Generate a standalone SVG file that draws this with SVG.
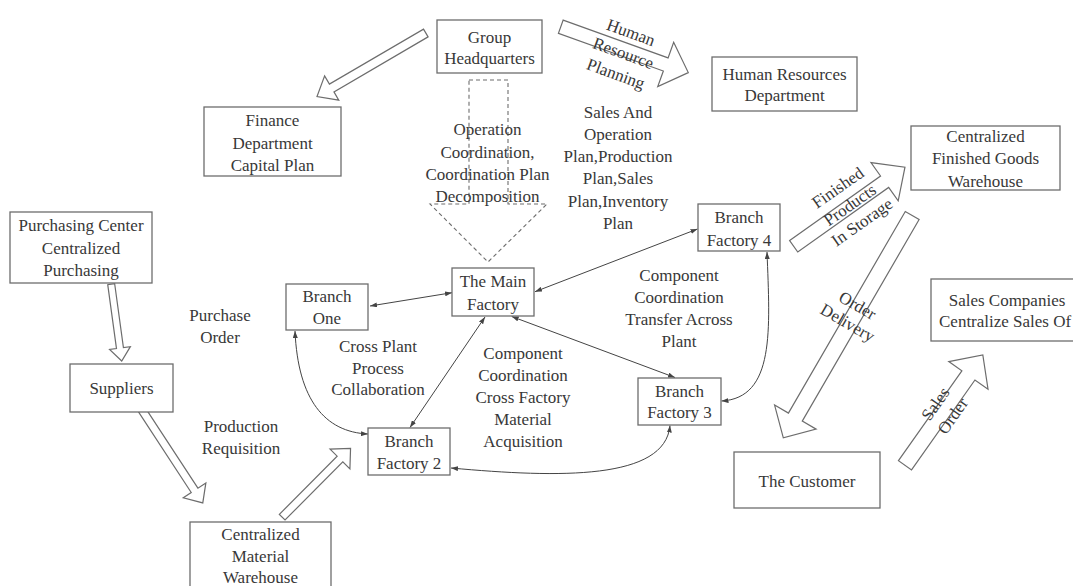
<svg xmlns="http://www.w3.org/2000/svg" width="1073" height="586" viewBox="0 0 1073 586">
<defs>
<marker id="ah" viewBox="0 0 7 5" markerWidth="7" markerHeight="5" refX="7" refY="2.5" orient="auto-start-reverse" markerUnits="userSpaceOnUse">
<path d="M0,0 L7,2.5 L0,5 z" fill="#444"/>
</marker>
</defs>
<style>
text{font-family:"Liberation Serif","Times New Roman",serif;font-size:17px;fill:#383838;text-anchor:middle}
.box{fill:#fff;stroke:#6d6d6d;stroke-width:1.3}
.blk{fill:#fff;stroke:#6d6d6d;stroke-width:1.2;stroke-linejoin:miter}
.dash{fill:none;stroke:#6d6d6d;stroke-width:1.1;stroke-dasharray:4 3}
.ln{fill:none;stroke:#444;stroke-width:1;marker-start:url(#ah);marker-end:url(#ah)}
</style>
<rect width="1073" height="586" fill="#fff"/>
<g id="connectors">
<polygon class="dash" points="469,80 508,80 508,204 547,204 488,262 430,204 469,204"/>
<polygon class="blk" transform="translate(425.8,33) rotate(149.7)" points="0,-4.5 109,-4.5 109,-14 126,0 109,14 109,4.5 0,4.5"/>
<polygon class="blk" transform="translate(560.8,26.7) rotate(19.8)" points="0,-7 111.5,-7 111.5,-23.5 135.5,0 111.5,23.5 111.5,7 0,7"/>
<polygon class="blk" transform="translate(793.7,246.3) rotate(-35.4)" points="0,-7 111.5,-7 111.5,-23.5 136.5,0 111.5,23.5 111.5,7 0,7"/>
<polygon class="blk" transform="translate(912.2,215.5) rotate(120.1)" points="0,-8 233,-8 233,-24 257,0 233,24 233,8 0,8"/>
<polygon class="blk" transform="translate(905,465.3) rotate(-54.8)" points="0,-8 110,-8 110,-24 135,0 110,24 110,8 0,8"/>
<polygon class="blk" transform="translate(111.2,284.2) rotate(82.2)" points="0,-3.5 64.5,-3.5 64.5,-10.5 77.5,0 64.5,10.5 64.5,3.5 0,3.5"/>
<polygon class="blk" transform="translate(142,410) rotate(56.8)" points="0,-4 96,-4 96,-13.5 111,0 96,13.5 96,4 0,4"/>
<polygon class="blk" transform="translate(282.2,517.2) rotate(-45.2)" points="0,-4 82,-4 82,-14 97,0 82,14 82,4 0,4"/>
<line class="ln" x1="370" y1="306" x2="452" y2="292.7"/>
<line class="ln" x1="535" y1="291.7" x2="697.5" y2="229"/>
<line class="ln" x1="511.7" y1="316.5" x2="675" y2="377.5"/>
<line class="ln" x1="485" y1="317" x2="410" y2="427.5"/>
<path class="ln" d="M295,331 C298,400 325,432 368,434"/>
<path class="ln" d="M451,468 C560,478 665,480 670,425.5"/>
<path class="ln" d="M767,252 C770,330 775,398 721.5,401"/>
</g>
<g id="labels">
<text><tspan x="487.5" y="135">Operation</tspan><tspan x="487.5" y="157.5">Coordination,</tspan><tspan x="487.5" y="180">Coordination Plan</tspan><tspan x="487.5" y="201.5">Decomposition</tspan></text>
<text><tspan x="618" y="117.5">Sales And</tspan><tspan x="618" y="140">Operation</tspan><tspan x="618" y="162">Plan,Production</tspan><tspan x="618" y="184">Plan,Sales</tspan><tspan x="618" y="206.5">Plan,Inventory</tspan><tspan x="618" y="228.5">Plan</tspan></text>
<text><tspan x="220" y="321">Purchase</tspan><tspan x="220" y="342.5">Order</tspan></text>
<text><tspan x="378" y="352">Cross Plant</tspan><tspan x="378" y="373.5">Process</tspan><tspan x="378" y="395">Collaboration</tspan></text>
<text><tspan x="679" y="281">Component</tspan><tspan x="679" y="303">Coordination</tspan><tspan x="679" y="325">Transfer Across</tspan><tspan x="679" y="347">Plant</tspan></text>
<text><tspan x="523" y="359">Component</tspan><tspan x="523" y="381">Coordination</tspan><tspan x="523" y="403">Cross Factory</tspan><tspan x="523" y="425">Material</tspan><tspan x="523" y="447">Acquisition</tspan></text>
<text><tspan x="241" y="431.5">Production</tspan><tspan x="241" y="453.5">Requisition</tspan></text>
<text transform="translate(623.3,53.3) rotate(20)"><tspan x="0" y="-16.5">Human</tspan><tspan x="0" y="5.5">Resource</tspan><tspan x="0" y="27.5">Planning</tspan></text>
<text transform="translate(850,205) rotate(-35)"><tspan x="0" y="-15.5">Finished</tspan><tspan x="0" y="5.5">Products</tspan><tspan x="0" y="26.5">In Storage</tspan></text>
<text transform="translate(852.5,314.2) rotate(30)"><tspan x="0" y="-4.5">Order</tspan><tspan x="0" y="15.5">Delivery</tspan></text>
<text transform="translate(944.2,410) rotate(-55)"><tspan x="0" y="-5">Sales</tspan><tspan x="0" y="16">Order</tspan></text>
</g>
<g id="hq"><rect class="box" x="437" y="20" width="105" height="53"/><text><tspan x="489.5" y="43">Group</tspan><tspan x="489.5" y="64">Headquarters</tspan></text></g>
<g id="finance"><rect class="box" x="204" y="107" width="137" height="69"/><text><tspan x="272.5" y="126">Finance</tspan><tspan x="272.5" y="149">Department</tspan><tspan x="272.5" y="171">Capital Plan</tspan></text></g>
<g id="hr"><rect class="box" x="712" y="57" width="145" height="54"/><text><tspan x="784.5" y="79.5">Human Resources</tspan><tspan x="784.5" y="101">Department</tspan></text></g>
<g id="fgw"><rect class="box" x="911" y="126" width="149" height="64"/><text><tspan x="985.5" y="142">Centralized</tspan><tspan x="985.5" y="164">Finished Goods</tspan><tspan x="985.5" y="187">Warehouse</tspan></text></g>
<g id="purchasing"><rect class="box" x="10" y="212" width="142" height="71"/><text><tspan x="81" y="231">Purchasing Center</tspan><tspan x="81" y="254">Centralized</tspan><tspan x="81" y="276">Purchasing</tspan></text></g>
<g id="suppliers"><rect class="box" x="70" y="364" width="103" height="48"/><text x="121.5" y="394">Suppliers</text></g>
<g id="branch1"><rect class="box" x="286" y="284" width="82" height="46"/><text><tspan x="327" y="302">Branch</tspan><tspan x="327" y="324">One</tspan></text></g>
<g id="main"><rect class="box" x="452" y="268" width="82" height="48"/><text><tspan x="493" y="286.5">The Main</tspan><tspan x="493" y="310">Factory</tspan></text></g>
<g id="bf2"><rect class="box" x="368" y="428" width="82" height="47"/><text><tspan x="409" y="447">Branch</tspan><tspan x="409" y="469">Factory 2</tspan></text></g>
<g id="bf3"><rect class="box" x="638" y="378" width="83" height="47"/><text><tspan x="679.5" y="396.5">Branch</tspan><tspan x="679.5" y="418">Factory 3</tspan></text></g>
<g id="bf4"><rect class="box" x="698" y="204" width="82" height="47"/><text><tspan x="739" y="222.5">Branch</tspan><tspan x="739" y="246">Factory 4</tspan></text></g>
<g id="customer"><rect class="box" x="734" y="452" width="146" height="56"/><text x="807" y="486.5">The Customer</text></g>
<g id="sales"><rect class="box" x="931" y="279" width="150" height="62"/><text><tspan x="1007" y="306">Sales Companies</tspan><tspan x="939" y="326.5" style="text-anchor:start">Centralize Sales Of</tspan></text></g>
<g id="cmw"><rect class="box" x="190" y="522" width="141" height="80"/><text><tspan x="260.5" y="540">Centralized</tspan><tspan x="260.5" y="561.5">Material</tspan><tspan x="260.5" y="582.5">Warehouse</tspan></text></g>
</svg>
